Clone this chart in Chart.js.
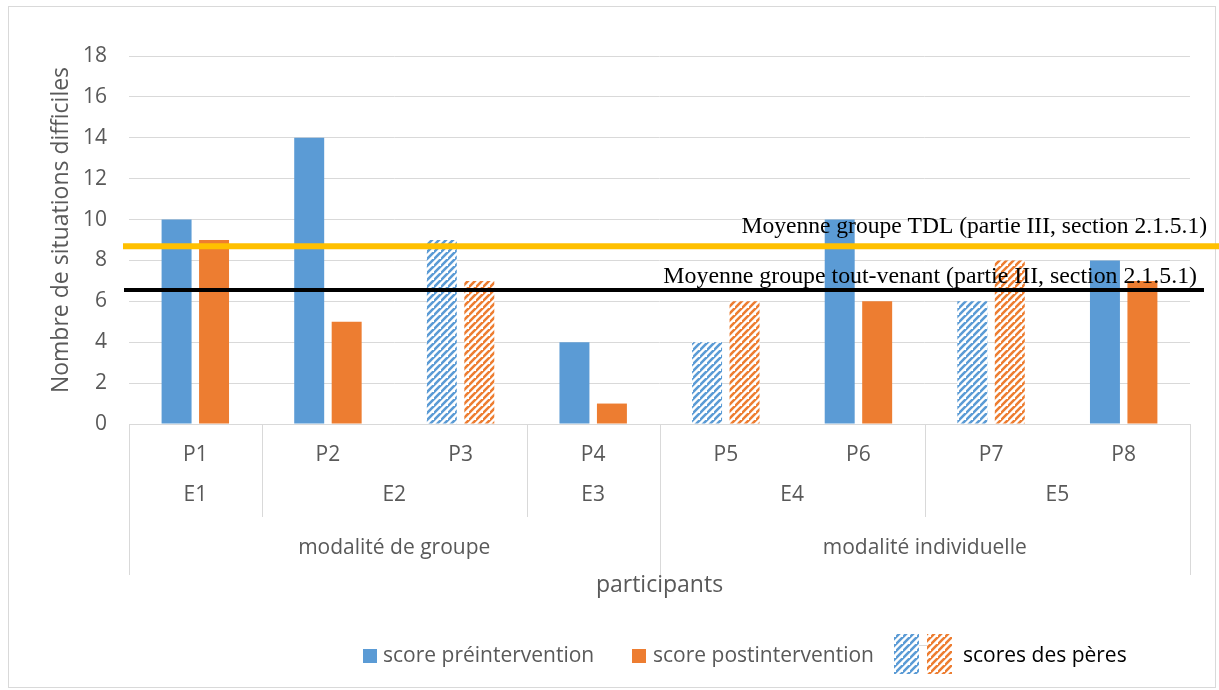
<!DOCTYPE html>
<html><head><meta charset="utf-8">
<script src="https://cdn.jsdelivr.net/npm/chart.js@4.4.0/dist/chart.umd.min.js"></script>
<style>html,body{margin:0;padding:0;background:#fff;}canvas{display:block}</style>
</head><body>
<canvas id="c" width="1219" height="690"></canvas>
<script>
const categories = ['P1','P2','P3','P4','P5','P6','P7','P8'];
const families = ['E1','E2','E2','E3','E4','E4','E5','E5'];
const modalities = ['modalité de groupe','modalité de groupe','modalité de groupe','modalité de groupe','modalité individuelle','modalité individuelle','modalité individuelle','modalité individuelle'];
const preScores = [10,14,9,4,4,10,6,8];
const postScores = [9,5,7,1,6,6,8,7];
const fathers = [false,false,true,false,true,false,true,false];
const meanTDL = 8.7;
const meanToutVenant = 6.55;
const labelTDL = 'Moyenne groupe TDL (partie III, section 2.1.5.1)';
const labelTV = 'Moyenne groupe tout-venant (partie III, section 2.1.5.1)';
const yMin = 0, yMax = 18, yStep = 2;

const BLUE = '#5B9BD5', ORANGE = '#ED7D31', GREY = '#595959', GRID = '#D9D9D9';
const SANS = '"Open Sans", "Noto Sans", sans-serif';
const SERIF = '"Liberation Serif", "DejaVu Serif", serif';

function hatch(color){
  const s = 7;
  const c = document.createElement('canvas'); c.width = s; c.height = s;
  const x = c.getContext('2d');
  x.fillStyle = '#fff'; x.fillRect(0,0,s,s);
  x.strokeStyle = color; x.lineWidth = 2.6;
  x.beginPath();
  x.moveTo(-1, s+1); x.lineTo(s+1, -1);
  x.moveTo(-s-1, s+1); x.lineTo(1, -1);
  x.moveTo(s-1, 2*s+1); x.lineTo(2*s+1, s-1);
  x.stroke();
  return x.createPattern(c, 'repeat');
}
const blueHatch = hatch(BLUE), orangeHatch = hatch(ORANGE);

function fitFont(ctx, text, family, width, fallback){
  ctx.font = '100px ' + family;
  const w = ctx.measureText(text).width;
  return w > 0 ? 100 * width / w : fallback;
}

const overlay = {
  id: 'overlay',
  afterDraw(chart){
    const ctx = chart.ctx, xs = chart.scales.x, ys = chart.scales.y, ca = chart.chartArea;
    ctx.save();
    ctx.strokeStyle = GRID; ctx.lineWidth = 1;
    ctx.strokeRect(8.5, 6.5, 1207, 681);
    let yT = ys.getPixelForValue(meanTDL);
    ctx.strokeStyle = '#FFC000'; ctx.lineWidth = 6;
    ctx.beginPath(); ctx.moveTo(123, yT); ctx.lineTo(1219, yT); ctx.stroke();
    let yV = ys.getPixelForValue(meanToutVenant);
    ctx.strokeStyle = '#000'; ctx.lineWidth = 4;
    ctx.beginPath(); ctx.moveTo(124, yV); ctx.lineTo(1204, yV); ctx.stroke();
    ctx.fillStyle = '#000'; ctx.textAlign = 'right'; ctx.textBaseline = 'alphabetic';
    ctx.font = fitFont(ctx, labelTDL, SERIF, 466, 23.5) + 'px ' + SERIF;
    ctx.fillText(labelTDL, 1207, yT - 13);
    ctx.font = fitFont(ctx, labelTV, SERIF, 534, 23.5) + 'px ' + SERIF;
    ctx.fillText(labelTV, 1197, yV - 7);
    const n = categories.length;
    const px = i => xs.getPixelForValue(i);
    const w = n > 1 ? px(1) - px(0) : 100;
    const base = ca.bottom;
    ctx.strokeStyle = GRID; ctx.lineWidth = 1;
    for (let b = 0; b <= n; b++){
      const x = b === 0 ? px(0) - w/2 : b === n ? px(n-1) + w/2 : (px(b-1)+px(b))/2;
      let bottom = null;
      if (b === 0 || b === n || modalities[b-1] !== modalities[b]) bottom = 575;
      else if (families[b-1] !== families[b]) bottom = 517;
      if (bottom){
        const xx = Math.round(x) + 0.5;
        ctx.beginPath(); ctx.moveTo(xx, base); ctx.lineTo(xx, bottom); ctx.stroke();
      }
    }
    ctx.fillStyle = GREY; ctx.textAlign = 'center'; ctx.textBaseline = 'middle';
    ctx.font = '21px ' + SANS;
    const groups = (arr) => { const g = []; arr.forEach((v,i)=>{ if (g.length && g[g.length-1].v === v) g[g.length-1].e = i; else g.push({v, s:i, e:i}); }); return g; };
    groups(families).forEach(g => ctx.fillText(g.v, (px(g.s)+px(g.e))/2, 495));
    groups(modalities).forEach(g => ctx.fillText(g.v, (px(g.s)+px(g.e))/2, 548));
    ctx.font = '23px ' + SANS;
    ctx.fillText('participants', (ca.left + ca.right)/2, 585);
    ctx.save(); ctx.translate(61, 230); ctx.rotate(-Math.PI/2);
    ctx.fillText('Nombre de situations difficiles', 0, 0); ctx.restore();
    ctx.textAlign = 'left'; ctx.font = '21px ' + SANS;
    ctx.fillStyle = BLUE; ctx.fillRect(363, 649, 14, 14);
    ctx.fillStyle = GREY; ctx.fillText('score préintervention', 383, 656);
    ctx.fillStyle = ORANGE; ctx.fillRect(632, 649, 14, 14);
    ctx.fillStyle = GREY; ctx.fillText('score postintervention', 653, 656);
    ctx.strokeStyle = GRID; ctx.lineWidth = 1;
    ctx.beginPath(); ctx.moveTo(919, 645.5); ctx.lineTo(927, 645.5); ctx.stroke();
    ctx.fillStyle = blueHatch; ctx.fillRect(894, 634, 25, 40);
    ctx.fillStyle = orangeHatch; ctx.fillRect(927, 634, 25, 40);
    ctx.fillStyle = '#000'; ctx.font = '21px ' + SANS;
    ctx.fillText('scores des pères', 963, 656);
    ctx.restore();
  }
};

new Chart(document.getElementById('c'), {
  type: 'bar',
  data: {
    labels: categories,
    datasets: [
      { label: 'score préintervention', data: preScores, backgroundColor: fathers.map(f => f ? blueHatch : BLUE), borderWidth: 0 },
      { label: 'score postintervention', data: postScores, backgroundColor: fathers.map(f => f ? orangeHatch : ORANGE), borderWidth: 0 }
    ]
  },
  options: {
    responsive: false, animation: false, devicePixelRatio: 1,
    categoryPercentage: 0.565, barPercentage: 0.8,
    layout: { padding: { top: 56, right: 29, left: 0, bottom: 0 } },
    plugins: { legend: { display: false }, tooltip: { enabled: false } },
    scales: {
      x: {
        grid: { display: false, drawTicks: false },
        border: { display: true, color: GRID, width: 1 },
        ticks: { color: GREY, font: { family: SANS, size: 21 }, padding: 18, maxRotation: 0 },
        afterFit: s => { s.height = 266; }
      },
      y: {
        min: yMin, max: yMax,
        grid: { color: GRID, drawTicks: false },
        border: { display: false },
        ticks: { stepSize: yStep, color: GREY, font: { family: SANS, size: 21 }, padding: 22 },
        afterFit: s => { s.width = 129; }
      }
    }
  },
  plugins: [overlay]
});
</script>
</body></html>
